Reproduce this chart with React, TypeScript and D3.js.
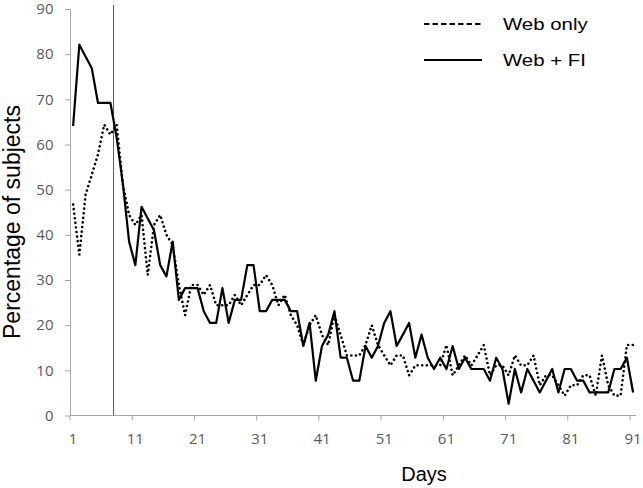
import React, { useEffect, useRef } from 'react';
import * as d3 from 'd3';

// days 1..91
const days = d3.range(1, 92);

// Web + FI (solid)
const webFi = [
  64.1, 82.1, 79.5, 76.9, 69.2, 69.2, 69.2, 61.5, 51.3, 38.5,
  33.3, 46.2, 43.6, 41.0, 33.3, 30.8, 38.5, 25.6, 28.2, 28.2,
  28.2, 23.1, 20.5, 20.5, 28.2, 20.5, 25.6, 25.6, 33.3, 33.3,
  23.1, 23.1, 25.6, 25.6, 25.6, 23.1, 23.1, 15.4, 20.5, 7.7,
  15.4, 17.9, 23.1, 12.8, 12.8, 7.7, 7.7, 15.4, 12.8, 15.4,
  20.5, 23.1, 15.4, 17.9, 20.5, 12.8, 17.9, 12.8, 10.3, 12.8,
  10.3, 15.4, 10.3, 12.8, 10.3, 10.3, 10.3, 7.7, 12.8, 10.3,
  2.6, 10.3, 5.1, 10.3, 7.7, 5.1, 7.7, 10.3, 5.1, 10.3,
  10.3, 7.7, 7.7, 5.1, 5.1, 5.1, 5.1, 10.3, 10.3, 12.8,
  5.1
];

// Web only (dotted)
const webOnly = [
  46.7, 35.6, 48.9, 53.3, 57.8, 64.4, 62.2, 64.4, 51.1, 44.4,
  42.2, 44.4, 31.1, 42.2, 44.4, 40.0, 37.8, 28.9, 22.2, 28.9,
  28.9, 26.7, 28.9, 24.4, 24.4, 24.4, 26.7, 24.4, 26.7, 28.9,
  28.9, 31.1, 28.9, 24.4, 26.7, 22.2, 20.0, 15.6, 20.0, 22.2,
  17.8, 15.6, 22.2, 17.8, 13.3, 13.3, 13.3, 15.6, 20.0, 15.6,
  13.3, 11.1, 13.3, 13.3, 8.9, 11.1, 11.1, 11.1, 11.1, 11.1,
  15.6, 8.9, 11.1, 13.3, 11.1, 13.3, 15.6, 8.9, 11.1, 11.1,
  8.9, 13.3, 11.1, 11.1, 13.3, 6.7, 8.9, 8.9, 6.7, 4.4,
  6.7, 6.7, 8.9, 8.9, 4.4, 13.3, 6.7, 4.4, 4.4, 15.6,
  15.6
];

const xTickDays = [1, 11, 21, 31, 41, 51, 61, 71, 81, 91];
const yTicks = [0, 10, 20, 30, 40, 50, 60, 70, 80, 90];
const markerDay = 8; // vertical line drawn before this day

const App = () => {
  const ref = useRef<HTMLDivElement>(null);

  useEffect(() => {
    const W = 643;
    const H = 488;
    d3.select(ref.current).select('svg').remove();

    const svg = d3.select(ref.current)
      .append('svg')
      .attr('width', W)
      .attr('height', H)
      .style('display', 'block')
      .style('background', '#fff');

    const x = d3.scaleBand<number>()
      .domain(days)
      .range([70, 636.2])
      .paddingInner(0)
      .paddingOuter(0);
    const cx = (d: number) => (x(d) as number) + x.bandwidth() / 2;

    const y = d3.scaleLinear().domain([0, 90]).range([415.5, 9]);

    const tickFont = '"Open Sans", sans-serif';
    const gray = '#595959';
    const axisCol = '#a6a6a6';

    // Y axis
    const gy = svg.append('g')
      .attr('transform', 'translate(70,0)')
      .call(d3.axisLeft(y).tickValues(yTicks).tickSize(5).tickSizeOuter(0).tickPadding(11.5));
    gy.select('.domain').attr('stroke', axisCol);
    gy.selectAll('.tick line').attr('stroke', axisCol);
    gy.selectAll('.tick text')
      .attr('fill', gray)
      .attr('font-family', tickFont)
      .attr('font-size', '15px');

    // X axis line + ticks at category boundaries
    const gx = svg.append('g');
    gx.append('line')
      .attr('x1', 70).attr('x2', 636.2)
      .attr('y1', y(0)).attr('y2', y(0))
      .attr('stroke', axisCol);
    gx.selectAll('line.tk')
      .data(xTickDays)
      .enter()
      .append('line')
      .attr('class', 'tk')
      .attr('x1', d => x(d) as number)
      .attr('x2', d => x(d) as number)
      .attr('y1', y(0))
      .attr('y2', y(0) + 5)
      .attr('stroke', axisCol);
    gx.selectAll('text')
      .data(xTickDays)
      .enter()
      .append('text')
      .attr('x', d => cx(d))
      .attr('y', 443.5)
      .attr('text-anchor', 'middle')
      .attr('fill', gray)
      .attr('font-family', tickFont)
      .attr('font-size', '15px')
      .text(d => d);

    // vertical marker line
    svg.append('line')
      .attr('x1', x(markerDay) as number)
      .attr('x2', x(markerDay) as number)
      .attr('y1', 5)
      .attr('y2', y(0))
      .attr('stroke', '#555')
      .attr('stroke-width', 1);

    const line = d3.line<number>()
      .x((d, i) => cx(days[i]))
      .y(d => y(d));

    // Web only (dotted)
    svg.append('path')
      .datum(webOnly)
      .attr('d', line)
      .attr('fill', 'none')
      .attr('stroke', '#000')
      .attr('stroke-width', 2.6)
      .attr('stroke-linecap', 'round')
      .attr('stroke-dasharray', '0.01,4.6');

    // Web + FI (solid)
    svg.append('path')
      .datum(webFi)
      .attr('d', line)
      .attr('fill', 'none')
      .attr('stroke', '#000')
      .attr('stroke-width', 2.2)
      .attr('stroke-linejoin', 'round');

    // Legend
    const lf = '"Liberation Sans", Arial, sans-serif';
    const legend = svg.append('g');
    legend.append('line')
      .attr('x1', 424).attr('x2', 482).attr('y1', 24).attr('y2', 24)
      .attr('stroke', '#000').attr('stroke-width', 2)
      .attr('stroke-dasharray', '5.5,3');
    legend.append('line')
      .attr('x1', 424).attr('x2', 482).attr('y1', 60).attr('y2', 60)
      .attr('stroke', '#000').attr('stroke-width', 2.2);
    legend.append('text')
      .attr('transform', 'translate(503,30) scale(1.2,1)')
      .attr('font-family', lf)
      .attr('font-size', '17px')
      .attr('fill', '#000')
      .text('Web only');
    legend.append('text')
      .attr('transform', 'translate(503,66) scale(1.2,1)')
      .attr('font-family', lf)
      .attr('font-size', '17px')
      .attr('fill', '#000')
      .text('Web + FI');

    // Axis titles
    svg.append('text')
      .attr('x', 424)
      .attr('y', 481)
      .attr('text-anchor', 'middle')
      .attr('font-family', lf)
      .attr('font-size', '20px')
      .attr('fill', '#000')
      .text('Days');

    svg.append('text')
      .attr('transform', 'translate(20,222) rotate(-90)')
      .attr('text-anchor', 'middle')
      .attr('font-family', lf)
      .attr('font-size', '23px')
      .attr('fill', '#000')
      .text('Percentage of subjects');
  }, []);

  return (
    <div ref={ref} style={{ position: 'absolute', left: 0, top: 0 }}></div>
  );
};

export default App;
